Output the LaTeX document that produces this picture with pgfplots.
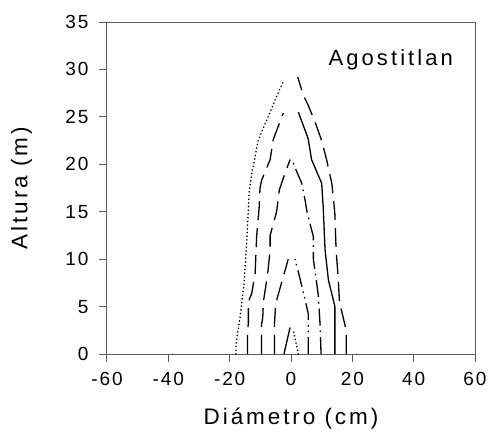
\documentclass[border=0pt]{standalone}
\usepackage{fontspec}
\setmainfont{Liberation Sans}[LetterSpace=14]
\newfontfamily\tickfont{Liberation Sans}[LetterSpace=10]
\newfontfamily\labelfont{Liberation Sans}[LetterSpace=13]
\usepackage{pgfplots}
\pgfplotsset{compat=1.18}

\definecolor{axisgray}{RGB}{90,90,90}

% stem profile line styles
\tikzset{
  prof/.style={black, line width=1.3bp, line join=round},
  pdot/.style={prof, line cap=round, dash pattern=on 0.1bp off 3.6bp, line width=1.7bp},
  plong/.style={prof, dash pattern=on 19bp off 8bp},
  pdashdot/.style={prof, dash pattern=on 17bp off 5bp on 1.5bp off 5bp},
  pdashdotdot/.style={prof, dash pattern=on 17bp off 5bp on 1.5bp off 4bp on 1.5bp off 5bp},
}

\begin{document}
\begin{tikzpicture}
\useasboundingbox (-107bp,-88bp) rectangle (383bp,354bp);
\begin{axis}[
  scale only axis,
  width=368bp, height=332bp,
  xmin=-60, xmax=60, ymin=0, ymax=35,
  xtick={-60,-40,...,60}, ytick={0,5,...,35},
  xtick pos=bottom, ytick pos=left,
  tick align=outside, major tick length=8bp,
  axis line style={axisgray, line width=1bp},
  every tick/.style={axisgray, line width=1bp},
  /pgf/number format/assume math mode=true,
  ticklabel style={font=\tickfont\fontsize{19bp}{21bp}\selectfont},
  xticklabel style={yshift=-7bp},
  yticklabel style={xshift=-7bp},
  xlabel={Diámetro (cm)}, ylabel={Altura (m)},
  label style={font=\labelfont\fontsize{22.5bp}{25bp}\selectfont},
  xlabel style={at={(axis description cs:0.5,-0.195)}, anchor=center},
  ylabel style={at={(axis description cs:-0.232,0.5)}, anchor=center},
  clip=false,
]
% left side of each profile
\addplot[pdot] coordinates {(-18,0) (-17.9,1.1) (-16.6,3.9) (-15.3,7.5) (-14.4,12) (-13.6,17.3) (-12.8,19) (-11.7,20.8) (-10.8,22.4) (-9.6,23.4) (-6.8,25.5) (-4.5,27.3) (-2.3,28.9)};
\addplot[plong] coordinates {(-14.2,0) (-14.2,2.5) (-13.9,3.2) (-13.9,5.5) (-12.8,6.4) (-11.7,8.5) (-11.2,12.4) (-10.4,15.4) (-10.1,17.5) (-9.6,18.3) (-6.8,20.5) (-5.8,22.6) (-2.5,25.4)};
\addplot[plong] coordinates {(-9.6,0) (-9.6,3.1) (-9.2,3.9) (-9,5.5) (-7.6,8.5) (-6.8,11) (-6.8,12.5) (-4.7,15) (-3.8,17.3) (-2,19) (-0.3,20.5)};
\addplot[plong] coordinates {(-5.4,0) (-5.4,3.1) (-5,5.3) (-3,7.6) (-0.9,10)};
\addplot[prof] coordinates {(-2.3,0) (-0.3,2.8)};
% right side of each profile
\addplot[plong] coordinates {(18,0) (18,2.5) (15.8,5.5) (15.4,8) (14.7,11) (14.3,14.8) (13.8,16.5) (13.3,18) (11.6,20.5) (10,22.5) (7.8,24.5) (5.5,26.3) (4,27.3) (2.2,29.2)};
\addplot[prof] coordinates {(14.3,0) (14.3,5) (13.8,5.7) (12.2,7.8) (11.1,11) (10.5,15.5) (10,18) (6.7,20.5) (5.6,22.7) (2.4,25.5)};
\addplot[pdashdot] coordinates {(9.8,0) (9.5,3) (8.9,6.2) (7.3,10) (7.3,12.4) (6.7,13.1) (5.1,15.2) (4.6,16.2) (3.5,18) (1.9,19.2) (0.3,20.5)};
\addplot[pdashdotdot] coordinates {(5.6,0) (5.6,4.3) (4.6,5.7) (2.9,8) (1.3,10)};
\addplot[pdot] coordinates {(2.4,0) (0.7,2.6)};
% site name
\node[anchor=base west, font=\fontsize{22bp}{25bp}\selectfont, inner sep=0pt] at (axis cs:12.2,30.4) {Agostitlan};
\end{axis}
\end{tikzpicture}
\end{document}
